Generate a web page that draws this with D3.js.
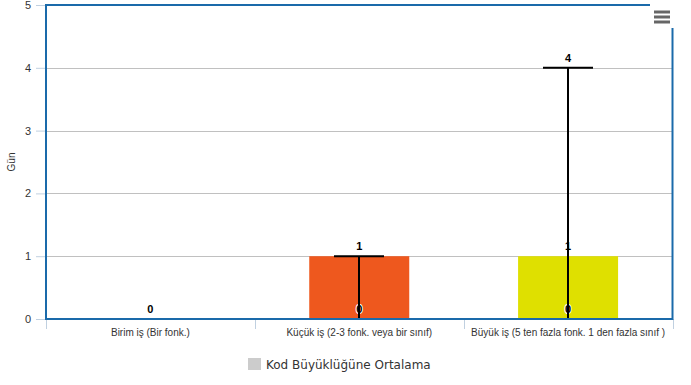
<!DOCTYPE html>
<html><head><meta charset="utf-8">
<script src="https://cdn.jsdelivr.net/npm/d3@7"></script>
<style>
html,body{margin:0;padding:0;background:#fff;}
svg{display:block;}
</style>
</head><body>
<svg id="chart" width="691" height="385"></svg>
<script>
const categories = ["Birim iş (Bir fonk.)", "Küçük iş (2-3 fonk. veya bir sınıf)", "Büyük iş (5 ten fazla fonk. 1 den fazla sınıf )"];
const values = [0, 1, 1];
const errLow = [0, 0, 0];
const errHigh = [0, 1, 4];
const barColors = ["#7cb5ec", "#ee581e", "#dfe000"];
const yTicks = [0, 1, 2, 3, 4, 5];
const yTitle = "Gün";
const legendLabel = "Kod Büyüklüğüne Ortalama";

const svg = d3.select("#chart");
const L = 46, R = 672.5, T = 5, B = 319;
const x = d3.scaleBand().domain(categories).range([L, R]).paddingInner(0).paddingOuter(0);
const y = d3.scaleLinear().domain([0, 5]).range([B, T]);
const barW = 100, whisk = 50;

// gridlines
svg.append("g").selectAll("line").data(yTicks.filter(d => d > 0)).join("line")
  .attr("x1", L).attr("x2", R).attr("y1", d => Math.round(y(d)) + 0.5).attr("y2", d => Math.round(y(d)) + 0.5)
  .attr("stroke", "#c0c0c0").attr("stroke-width", 1);

// y axis
const ya = svg.append("g").attr("transform", `translate(${L},0)`)
  .call(d3.axisLeft(y).tickValues(yTicks).tickSize(10).tickPadding(5).tickFormat(d3.format("d")));
ya.select(".domain").remove();
ya.selectAll(".tick line").attr("stroke", "#c0d0e0");
ya.selectAll(".tick text").attr("font-family", "Liberation Sans, Arial, sans-serif").attr("font-size", 11).attr("fill", "#333");

// x axis
const xa = svg.append("g").attr("transform", `translate(0,${B})`)
  .call(d3.axisBottom(x).tickSize(0).tickPadding(10));
xa.select(".domain").remove();
xa.selectAll(".tick text").attr("font-family", "Liberation Sans, Arial, sans-serif").attr("font-size", 10).attr("fill", "#333");
const bounds = [L].concat(categories.map(c => x(c) + x.bandwidth()));
svg.append("g").selectAll("line").data(bounds).join("line")
  .attr("x1", d => Math.round(d) + 0.5).attr("x2", d => Math.round(d) + 0.5)
  .attr("y1", B).attr("y2", B + 10).attr("stroke", "#c0d0e0");

// bars
svg.append("g").selectAll("rect").data(categories).join("rect")
  .attr("x", (d, i) => x(d) + x.bandwidth() / 2 - barW / 2)
  .attr("width", barW)
  .attr("y", (d, i) => y(values[i]))
  .attr("height", (d, i) => y(0) - y(values[i]))
  .attr("fill", (d, i) => barColors[i]);

// labels
const lab = svg.append("g").attr("font-family", "Liberation Sans, Arial, sans-serif").attr("font-size", 11)
  .attr("font-weight", "bold").attr("text-anchor", "middle");
function addLabel(cx, cy, t) {
  lab.append("text").attr("x", cx).attr("y", cy).text(t)
    .attr("fill", "#000").attr("stroke", "#fff").attr("stroke-width", 2).attr("paint-order", "stroke")
    .attr("stroke-linejoin", "round");
}
categories.forEach((c, i) => {
  const cx = x(c) + x.bandwidth() / 2;
  addLabel(cx, y(values[i]) - 6, values[i]);
  if (errHigh[i] > 0) {
    addLabel(cx, y(errHigh[i]) - 6, errHigh[i]);
    addLabel(cx, y(errLow[i]) - 6, errLow[i]);
  }
});

// error bars
const eb = svg.append("g").attr("stroke", "#000").attr("stroke-width", 2);
categories.forEach((c, i) => {
  if (errHigh[i] === errLow[i]) return;
  const cx = Math.round(x(c) + x.bandwidth() / 2);
  eb.append("line").attr("x1", cx).attr("x2", cx).attr("y1", y(errLow[i])).attr("y2", y(errHigh[i]));
  eb.append("line").attr("x1", cx - whisk / 2).attr("x2", cx + whisk / 2).attr("y1", y(errHigh[i])).attr("y2", y(errHigh[i]));
});

// plot border
svg.append("rect").attr("x", L).attr("y", T).attr("width", R - L).attr("height", B - T)
  .attr("fill", "none").attr("stroke", "#1a6aaa").attr("stroke-width", 2);

// y title
svg.append("text").attr("transform", `translate(15,${(T + B) / 2}) rotate(-90)`)
  .attr("text-anchor", "middle").attr("font-family", "Liberation Sans, Arial, sans-serif")
  .attr("font-size", 10).attr("fill", "#333").text(yTitle);

// menu button
svg.append("rect").attr("x", 650).attr("y", 4).attr("width", 24).attr("height", 24).attr("fill", "#fff");
svg.append("g").selectAll("line").data([12, 17, 22]).join("line")
  .attr("x1", 654).attr("x2", 670).attr("y1", d => d).attr("y2", d => d)
  .attr("stroke", "#666").attr("stroke-width", 3);

// legend
svg.append("rect").attr("x", 248).attr("y", 358).attr("width", 13).attr("height", 12).attr("fill", "#ccc");
svg.append("text").attr("x", 266).attr("y", 369).attr("font-family", "DejaVu Sans, sans-serif")
  .attr("font-size", 12).attr("fill", "#333").text(legendLabel);
</script>
</body></html>
